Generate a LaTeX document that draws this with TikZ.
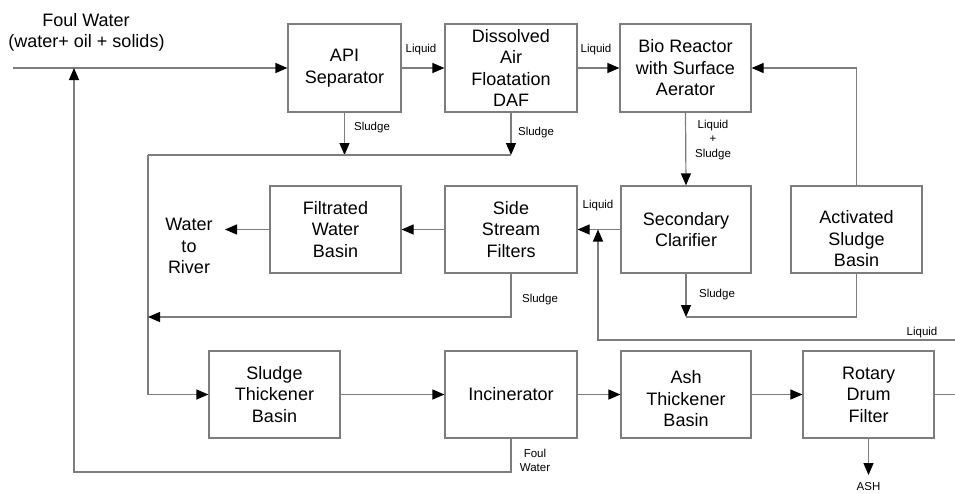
\documentclass[tikz,border=0pt]{standalone}
\usepackage{fontspec}
\setmainfont{Liberation Sans}
\usetikzlibrary{arrows.meta,positioning}
\definecolor{linegray}{RGB}{125,125,125}
\tikzset{
  unit box/.style={draw=linegray, line width=1.2pt, inner sep=0pt,
    align=center, font=\fontsize{18}{21.5}\selectfont,
    minimum width=131pt, minimum height=87pt},
  box text/.style={inner sep=0pt, align=center, font=\fontsize{18}{21.5}\selectfont},
  flow/.style={draw=linegray, line width=1.2pt},
  arr/.style={flow, -{Triangle[color=black, length=12pt, width=10pt]}},
  tag/.style={inner sep=0pt, font=\fontsize{11.5}{14}\selectfont},
  title/.style={inner sep=0pt, font=\fontsize{18}{22}\selectfont}
}
\begin{document}
\begin{tikzpicture}[x=1pt, y=-1pt]
\useasboundingbox (0,0) rectangle (955,493);

% process units, top row
\node[unit box, minimum width=113pt, minimum height=88pt] (api) at (344.5,68) {API\\Separator};
\node[unit box, minimum width=132pt, minimum height=88pt] (daf) at (511,68) {Dissolved\\Air\\Floatation\\DAF};
\node[unit box, minimum height=88pt] (bio) at (685.5,68) {Bio Reactor\\with Surface\\Aerator};

% middle row
\node[unit box] (fwb) at (335.5,229.5) {Filtrated\\Water\\Basin};
\node[unit box, minimum width=132pt] (ssf) at (511,229.5) {Side\\Stream\\Filters};
\node[unit box, minimum width=130pt] (sc) at (686,229.5) {Secondary\\Clarifier};
\node[unit box] (asb) at (856.5,229.5) {};
\node[box text] (asbtext) at (856.5,239) {Activated\\Sludge\\Basin};
\node[box text] (river) at (189,246) {Water\\to\\River};

% bottom row
\node[unit box] (stb) at (274.5,394.5) {Sludge\\Thickener\\Basin};
\node[unit box, minimum width=132pt] (inc) at (511,394.5) {Incinerator};
\node[unit box, minimum width=130pt] (ash) at (686,394.5) {};
\node[box text] (ashtext) at (686,399) {Ash\\Thickener\\Basin};
\node[unit box] (rdf) at (868.5,394.5) {Rotary\\Drum\\Filter};

% feed title
\node[title] (feed1) at (86,20) {Foul Water};
\node[title] (feed2) at (86.5,43) {(water+ oil + solids)};

% junction and free-end points
\coordinate (feed) at (13,68);
\coordinate (apisl) at (344.5,155);
\coordinate (dafsl) at (511,155);
\coordinate (sludgebus) at (148,155);
\coordinate (sludgein) at (148,317);
\coordinate (ssfsl) at (511,317);
\coordinate (scsl) at (686,317);
\coordinate (riverend) at (225,229.5);
\coordinate (liqjoin) at (598,229.5);
\coordinate (liqin) at (955,340);
\coordinate (rdfout) at (955,394.5);
\coordinate (recycle) at (511,472);
\coordinate (feedjoin) at (74,68);
\coordinate (ashout) at (868.5,475);

% main liquid line
\draw[arr] (feed) -- (api.west);
\draw[arr] (api.east) -- (daf.west);
\draw[arr] (daf.east) -- (bio.west);
\draw[arr] (asb.north) |- (bio.east);
\draw[arr] (bio.south) -- (sc.north);
\draw[arr] (sc.west) -- (ssf.east);
\draw[arr] (ssf.west) -- (fwb.east);
\draw[arr] (fwb.west) -- (riverend);

% sludge collection
\draw[arr] (api.south) -- (apisl);
\draw[arr] (daf.south) -- (dafsl);
\draw[flow] (dafsl) -- (sludgebus);
\draw[arr] (sludgebus) |- (stb.west);
\draw[arr] (ssf.south) |- (sludgein);
\draw[arr] (sc.south) -- (scsl);
\draw[flow] (scsl) -| (asb.south);

% liquid return
\draw[arr] (liqin) -| (liqjoin);

% solids treatment
\draw[arr] (stb.east) -- (inc.west);
\draw[arr] (inc.east) -- (ash.west);
\draw[arr] (ash.east) -- (rdf.west);
\draw[flow] (rdf.east) -- (rdfout);
\draw[arr] (inc.south) |- (recycle) -| (feedjoin);
\draw[arr] (rdf.south) -- (ashout);

% stream labels
\node[tag] (l1) at (421,50) {Liquid};
\node[tag] (l2) at (596,50) {Liquid};
\node[tag] (s1) at (372,128) {Sludge};
\node[tag] (s2) at (536,133) {Sludge};
\node[tag, align=center, font=\fontsize{11.5}{14.5}\selectfont] (ls) at (713,140) {Liquid\\+\\Sludge};
\node[tag] (l3) at (598,206) {Liquid};
\node[tag] (s3) at (540,300) {Sludge};
\node[tag] (s4) at (717,295) {Sludge};
\node[tag] (l4) at (922,333) {Liquid};
\node[tag, align=center, font=\fontsize{11.5}{14}\selectfont] (fwl) at (535,460) {Foul\\Water};
\node[tag] (ashl) at (868.5,486.5) {ASH};
\end{tikzpicture}
\end{document}
